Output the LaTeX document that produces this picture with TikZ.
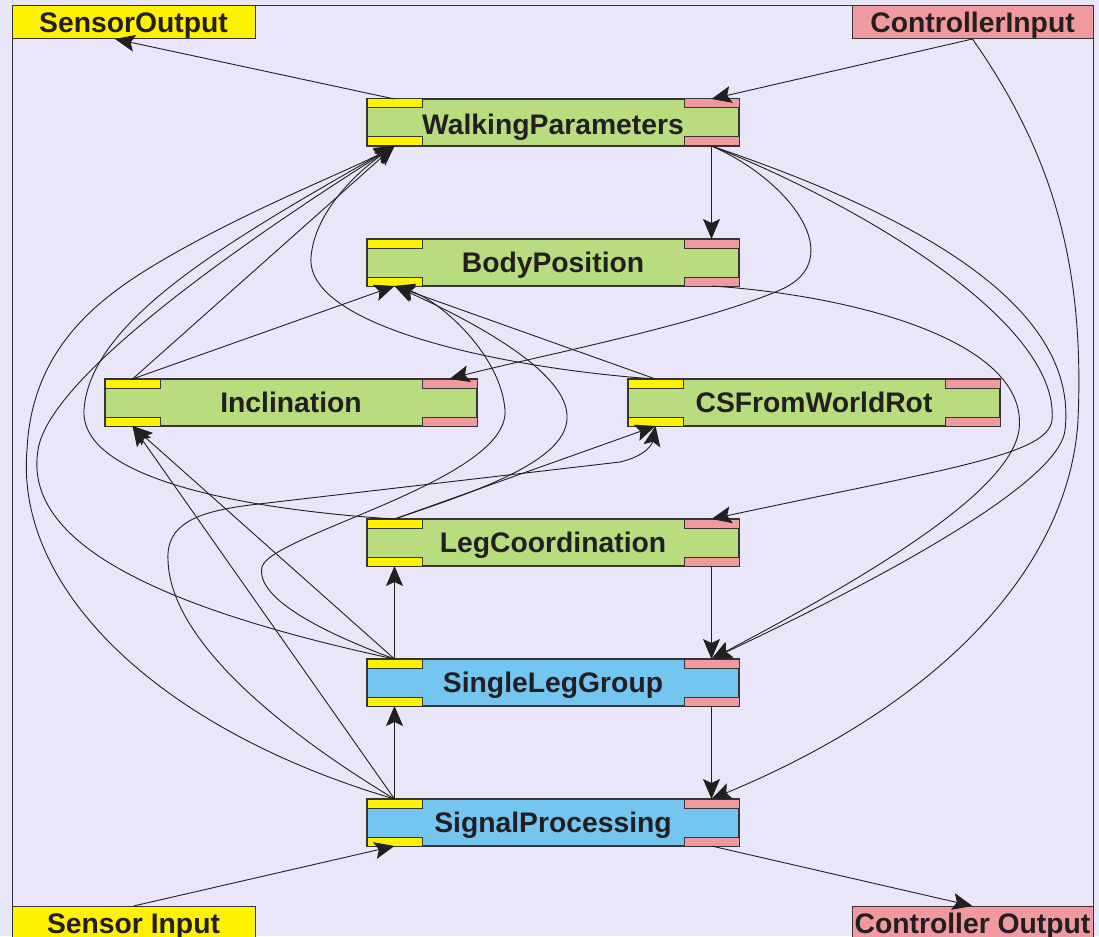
\documentclass[tikz,border=0pt]{standalone}
\usepackage{fontspec}
\setmainfont{Liberation Sans}
\usetikzlibrary{arrows.meta}

\definecolor{bgC}{RGB}{232,230,248}
\definecolor{greenC}{RGB}{184,220,126}
\definecolor{blueC}{RGB}{116,197,239}
\definecolor{yelC}{RGB}{255,242,0}
\definecolor{pinkC}{RGB}{240,154,160}
\definecolor{inkC}{RGB}{35,31,32}
\definecolor{edgeC}{RGB}{55,52,55}

\tikzset{
  bigfont/.style={font=\fontsize{28.3}{34}\selectfont\bfseries, text=inkC},
  blk/.style={draw=edgeC, line width=1.2pt, rectangle, inner sep=0pt, outer sep=0pt,
    minimum width=372pt, minimum height=47pt, text height=33pt, text depth=14pt,
    anchor=north west, bigfont},
  port/.style={draw=edgeC, line width=1pt, rectangle, inner sep=0pt, outer sep=0pt,
    minimum width=55pt, minimum height=9pt},
  lbl/.style={draw=edgeC, line width=1pt, rectangle, inner sep=0pt, outer sep=0pt,
    minimum height=33pt, text height=27pt, text depth=6pt, anchor=north west, bigfont},
  conn/.style={draw=inkC, line width=0.9pt,
    -{Stealth[length=20pt,width=17pt,inset=4pt]}},
}

% module block with sensor ports (yellow, left) and controller ports (pink, right)
\newcommand\modblock[5]{%
  \node[blk, fill=#4] (#1) at (#2,#3) {#5};
  \node[port, fill=yelC,  anchor=north west] (#1-yt) at (#1.north west) {};
  \node[port, fill=yelC,  anchor=south west] (#1-yb) at (#1.south west) {};
  \node[port, fill=pinkC, anchor=north east] (#1-pt) at (#1.north east) {};
  \node[port, fill=pinkC, anchor=south east] (#1-pb) at (#1.south east) {};
}

\begin{document}
\begin{tikzpicture}[x=1pt,y=-1pt]
  \useasboundingbox (0,0) rectangle (1099,936);
  \clip (0,0) rectangle (1099,936);
  \fill[bgC] (0,0) rectangle (1099,936);
  \draw[edgeC, line width=1pt] (12,6) rectangle (1093,960);

  % external interface boxes
  \node[lbl, fill=yelC,  minimum width=243pt] (so) at (12,6)   {SensorOutput};
  \node[lbl, fill=pinkC, minimum width=241pt] (ci) at (852,6)  {ControllerInput};
  \node[lbl, fill=yelC,  minimum width=243pt] (si) at (12,906) {Sensor Input};
  \node[lbl, fill=pinkC, minimum width=241pt] (co) at (852,906) {Controller Output};
  \coordinate (so-in) at (115,39);

  % modules
  \modblock{wp}{367}{99}{greenC}{\raisebox{-3pt}{WalkingParameters}}
  \modblock{bp}{367}{239}{greenC}{BodyPosition}
  \modblock{incl}{105}{379}{greenC}{Inclination}
  \modblock{cs}{628}{379}{greenC}{CSFromWorldRot}
  \modblock{lc}{367}{519}{greenC}{LegCoordination}
  \modblock{slg}{367}{659}{blueC}{SingleLegGroup}
  \modblock{sp}{367}{799}{blueC}{SignalProcessing}

  % sensor data, flowing upwards
  \draw[conn] (si.north) -- (sp-yb.south);
  \draw[conn] (sp-yt.north) -- (slg-yb.south);
  \draw[conn] (slg-yt.north) -- (lc-yb.south);
  \draw[conn] (wp-yt.north) -- (so-in);
  \draw[conn] (sp-yt.north) -- (incl-yb.south);
  \draw[conn] (slg-yt.north) -- (incl-yb.south);
  \draw[conn] (incl-yt.north) -- (wp-yb.south);
  \draw[conn] (incl-yt.north) -- (bp-yb.south);
  \draw[conn] (cs-yt.north) -- (bp-yb.south);
  \draw[conn] (lc-yt.north) -- (cs-yb.south);
  \draw[conn] (cs-yt.north) .. controls (520,370) and (305,330) .. (311,257)
                            .. controls (315,210) and (360,170) .. (wp-yb.south);
  \draw[conn] (sp-yt.north) .. controls (160,730) and (15,590) .. (27,450)
                            .. controls (32,340) and (110,290) .. (175,253)
                            .. controls (260,205) and (350,170) .. (wp-yb.south);
  \draw[conn] (slg-yt.north) .. controls (120,600) and (25,530) .. (38,450)
                             .. controls (48,380) and (230,250) .. (wp-yb.south);
  \draw[conn] (lc-yt.north) .. controls (250,510) and (80,480) .. (84,410)
                            .. controls (90,320) and (230,240) .. (wp-yb.south);
  \draw[conn] (slg-yt.north) .. controls (330,635) and (255,600) .. (262,567)
                             .. controls (270,535) and (510,480) .. (505,410)
                             .. controls (501,355) and (440,300) .. (bp-yb.south);
  \draw[conn] (lc-yt.north) .. controls (480,490) and (570,460) .. (567,415)
                            .. controls (565,370) and (470,320) .. (bp-yb.south);
  \draw[conn] (sp-yt.north) .. controls (280,730) and (170,640) .. (168,560)
                            .. controls (166,525) and (195,512) .. (250,505)
                            -- (620,462)
                            .. controls (645,456) and (652,445) .. (cs-yb.south);

  % controller data, flowing downwards
  \draw[conn] (ci.south) -- (wp-pt.north);
  \draw[conn] (wp-pb.south) -- (bp-pt.north);
  \draw[conn] (lc-pb.south) -- (slg-pt.north);
  \draw[conn] (slg-pb.south) -- (sp-pt.north);
  \draw[conn] (sp-pb.south) -- (co.north);
  \draw[conn] (wp-pb.south) .. controls (790,180) and (850,260) .. (780,290)
                            .. controls (700,325) and (520,360) .. (incl-pt.north);
  \draw[conn] (wp-pb.south) .. controls (850,200) and (1060,320) .. (1052,420)
                            .. controls (1048,455) and (950,468) .. (lc-pt.north);
  \draw[conn] (wp-pb.south) .. controls (900,210) and (1080,300) .. (1065,430)
                            .. controls (1060,480) and (900,570) .. (slg-pt.north);
  \draw[conn] (bp-pb.south) .. controls (850,295) and (1030,340) .. (1019,430)
                            .. controls (1010,490) and (880,570) .. (slg-pt.north);
  \draw[conn] (ci.south) .. controls (1050,150) and (1085,260) .. (1078,420)
                         .. controls (1070,560) and (950,700) .. (sp-pt.north);
\end{tikzpicture}
\end{document}
